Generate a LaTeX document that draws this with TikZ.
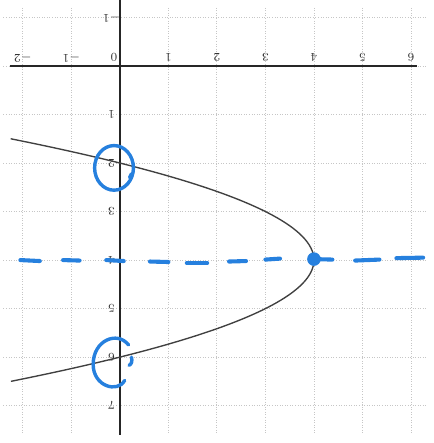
\documentclass[tikz,border=0pt]{standalone}
\begin{document}
\begin{tikzpicture}[x=1cm,y=1cm,
  gridline/.style={gray!45,densely dotted,line width=0.5pt},
  axisline/.style={black!85,line width=1.1pt},
  curve/.style={black!75,line width=0.8pt},
  ink/.style={color=inkblue,line width=2.4pt,line cap=round},
  lab/.style={font=\scriptsize\bfseries,rotate=180,inner sep=0.5pt,text=black!80}]
\definecolor{inkblue}{RGB}{38,128,222}
\useasboundingbox (-2.47,1.36) rectangle (6.46,-7.77);
% grid
\foreach \k in {-2,...,6} \draw[gridline] (\k,1.2) -- (\k,-7.6);
\foreach \v in {-1,...,7} \draw[gridline] (-2.4,-\v) -- (6.3,-\v);
% axes
\draw[axisline] (-2.27,0) -- (6.12,0);
\draw[axisline] (0,1.36) -- (0,-7.6);
% x labels
\foreach \k in {-2,-1,1,2,3,4,5,6}
  \node[lab] (xl\k) at (\k,0.17) {$\k$};
\node[lab] (xl0) at (-0.12,0.17) {$0$};
% y labels
\foreach \v in {-1,1,2,3,4,5,6,7}
  \node[lab] (yl\v) at (-0.17,-\v) {$\v$};
% parabola
\draw[curve] plot[domain=1.5:6.5,samples=90,smooth] ({4-(\x-4)^2},{-\x});
% blue marks
\draw[ink] (-2.05,-4.0) -- (-1.65,-4.02);
\draw[ink] (-1.17,-4.0) -- (-0.83,-4.01);
\draw[ink] (-0.28,-4.0) -- (0.08,-4.02);
\draw[ink] (0.62,-4.03) -- (1.0,-4.04);
\draw[ink] (1.38,-4.06) -- (1.8,-4.06);
\draw[ink] (2.25,-4.03) -- (2.6,-4.02);
\draw[ink] (3.0,-3.99) -- (3.3,-3.97);
\draw[ink] (4.0,-3.98) -- (4.38,-3.99);
\draw[ink] (4.85,-4.01) -- (5.35,-3.99);
\draw[ink] (5.7,-3.96) -- (6.25,-3.95);
\fill[inkblue] (4.0,-3.98) circle (0.14);
% circle around (0,2)
\draw[ink,line width=2pt] (-0.12,-2.1) ellipse [x radius=0.4, y radius=0.46];
\draw[ink,line width=2pt] (0.24,-2.22) -- (0.2,-2.3);
% C around (0,6)
\draw[ink,line width=2pt] (0.18,-5.75) .. controls (-0.05,-5.45) and (-0.55,-5.65) .. (-0.55,-6.15)
  .. controls (-0.55,-6.6) and (-0.05,-6.75) .. (0.1,-6.48);
\draw[ink,line width=2pt] (0.24,-6.0) .. controls (0.26,-6.08) and (0.24,-6.15) .. (0.19,-6.17);
\end{tikzpicture}
\end{document}
